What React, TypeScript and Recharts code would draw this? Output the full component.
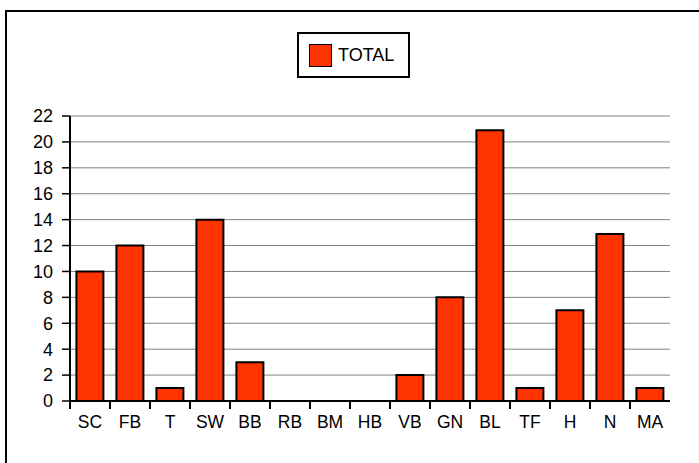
import { BarChart, Bar, XAxis, YAxis, CartesianGrid, Legend } from "recharts";

// Counts per category
const categories = ["SC", "FB", "T", "SW", "BB", "RB", "BM", "HB", "VB", "GN", "BL", "TF", "H", "N", "MA"];
const totals = [10, 12, 1, 14, 3, 0, 0, 0, 2, 8, 20.9, 1, 7, 12.9, 1];
const yTicks = [0, 2, 4, 6, 8, 10, 12, 14, 16, 18, 20, 22];

const data = categories.map((name, i) => ({ name, TOTAL: totals[i] }));

const RED = "#FF3300";
const FONT = "'Liberation Sans', Arial, sans-serif";

const W = 699;
const H = 463;
const MARGIN = { top: 116, right: 29, bottom: 32, left: 10 };
const Y_WIDTH = 60;
const BAND = (W - MARGIN.left - MARGIN.right - Y_WIDTH) / categories.length;

// category label plus a tick mark on the left edge of each band
const XTick = (props: any) => {
  const { x, y, payload } = props;
  const axisY = y - 8;
  return (
    <g>
      <line x1={x - BAND / 2} y1={axisY} x2={x - BAND / 2} y2={axisY + 8} stroke="#000" strokeWidth={2} />
      <text x={x} y={y} dy={19} textAnchor="middle" fontSize={17.5} fontFamily={FONT} fill="#000">
        {payload.value}
      </text>
    </g>
  );
};

const LegendBox = () => (
  <div
    style={{
      border: "2px solid #000",
      height: 46,
      display: "flex",
      alignItems: "center",
      paddingLeft: 10,
      boxSizing: "border-box",
      background: "#fff",
    }}
  >
    <span
      style={{
        width: 23,
        height: 23,
        background: RED,
        border: "1.5px solid #000",
        boxSizing: "border-box",
        display: "inline-block",
      }}
    />
    <span style={{ marginLeft: 6, fontFamily: FONT, fontSize: 18, color: "#000" }}>TOTAL</span>
  </div>
);

export default function App() {
  return (
    <div style={{ position: "absolute", left: 0, top: 0, width: W, height: H, overflow: "hidden", background: "#fff" }}>
      <div
        style={{
          position: "absolute",
          left: 5,
          top: 10,
          width: 800,
          height: 600,
          borderTop: "2px solid #000",
          borderLeft: "2px solid #000",
        }}
      />
      <div style={{ position: "absolute", left: 0, top: 0 }}>
        <BarChart width={W} height={H} data={data} margin={MARGIN} barCategoryGap="16%">
          <CartesianGrid vertical={false} stroke="#808080" strokeWidth={1} />
          <XAxis
            dataKey="name"
            tickLine={false}
            axisLine={{ stroke: "#000", strokeWidth: 2 }}
            tick={<XTick />}
            interval={0}
            height={30}
          />
          <YAxis
            width={Y_WIDTH}
            domain={[0, 22]}
            ticks={yTicks}
            interval={0}
            axisLine={{ stroke: "#000", strokeWidth: 2 }}
            tickLine={{ stroke: "#000", strokeWidth: 1.5 }}
            tickSize={8}
            tickMargin={9}
            tick={{ fontSize: 18, fontFamily: FONT, fill: "#000" }}
          />
          <Legend
            layout="horizontal"
            verticalAlign="middle"
            align="center"
            content={<LegendBox />}
            wrapperStyle={{ top: 32, left: 297, width: 113, height: 46 }}
          />
          <Bar dataKey="TOTAL" fill={RED} stroke="#000" strokeWidth={2} isAnimationActive={false} />
        </BarChart>
      </div>
    </div>
  );
}
